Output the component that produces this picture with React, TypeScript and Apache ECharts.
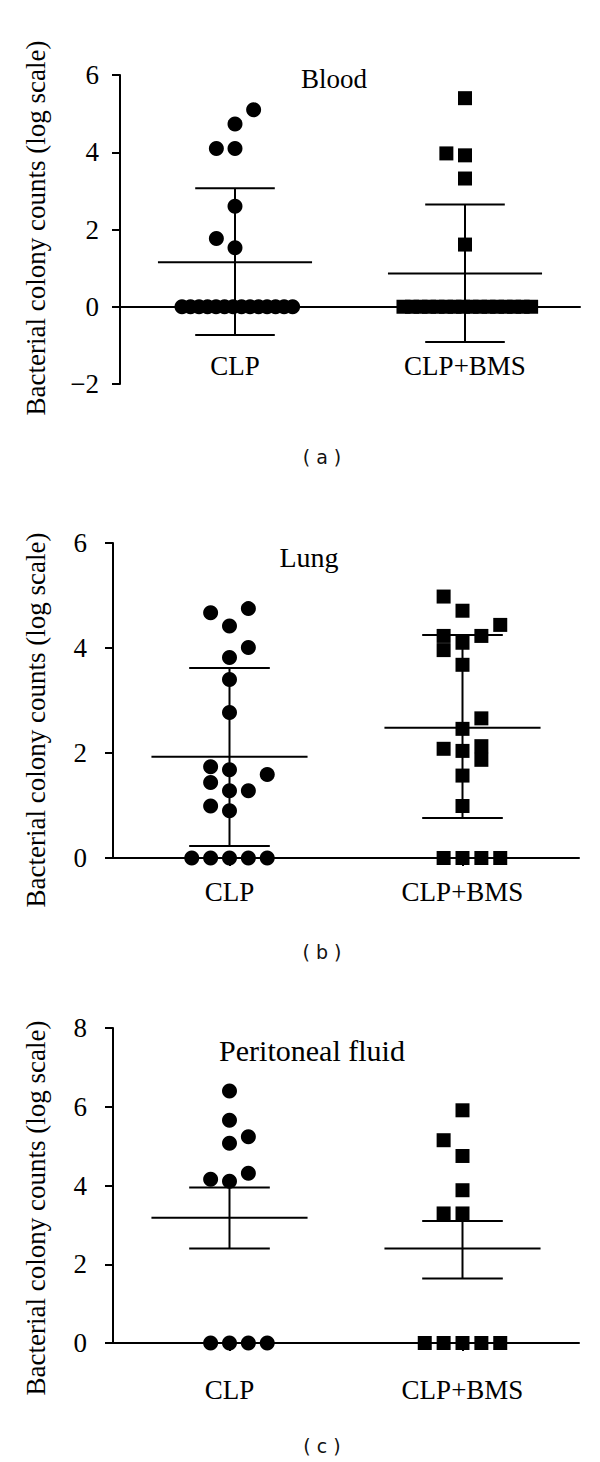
import React, { useEffect, useRef } from 'react';
import * as echarts from 'echarts';

// ---- Data ----
const categories = ['CLP', 'CLP+BMS'];
const panelTitles = ['Blood', 'Lung', 'Peritoneal fluid'];
const panelLetters = ['( a )', '( b )', '( c )'];
const yAxisTitle = 'Bacterial colony counts (log scale)';

// (a) Blood
const bloodClpValues = [5.1, 4.73, 4.1, 4.1, 2.6, 1.77, 1.53, 0, 0, 0, 0, 0, 0, 0, 0, 0, 0, 0, 0, 0, 0];
const bloodClpSwarm = [1, 0, -1, 0, 0, -1, 0];
const bloodBmsValues = [5.4, 3.97, 3.92, 3.32, 1.61, 0, 0, 0, 0, 0, 0, 0, 0, 0, 0, 0, 0, 0, 0, 0, 0];
const bloodBmsSwarm = [0, -1, 0, 0, 0];
const bloodMean = [1.15, 0.86];
const bloodLow = [-0.73, -0.91];
const bloodHigh = [3.07, 2.65];

// (b) Lung
const lungClpValues = [4.75, 4.67, 4.42, 4.01, 3.82, 3.4, 2.77, 1.74, 1.68, 1.59, 1.44, 1.28, 1.28, 0.99, 0.9, 0, 0, 0, 0, 0];
const lungClpSwarm = [1, -1, 0, 1, 0, 0, 0, -1, 0, 2, -1, 0, 1, -1, 0, -2, -1, 0, 1, 2];
const lungBmsValues = [4.98, 4.71, 4.44, 4.23, 3.96, 4.1, 4.23, 3.68, 2.66, 2.46, 2.08, 2.04, 2.13, 1.87, 1.57, 0.99, 0, 0, 0, 0];
const lungBmsSwarm = [-1, 0, 2, -1, -1, 0, 1, 0, 1, 0, -1, 0, 1, 1, 0, 0, -1, 0, 1, 2];
const lungMean = [1.93, 2.48];
const lungLow = [0.23, 0.76];
const lungHigh = [3.62, 4.25];

// (c) Peritoneal fluid
const periClpValues = [6.4, 5.66, 5.24, 5.07, 4.31, 4.16, 4.11, 0, 0, 0, 0];
const periClpSwarm = [0, 0, 1, 0, 1, -1, 0, -1, 0, 1, 2];
const periBmsValues = [5.91, 5.15, 4.75, 3.88, 3.29, 3.29, 0, 0, 0, 0, 0];
const periBmsSwarm = [0, -1, 0, 0, -1, 0, -2, -1, 0, 1, 2];
const periMean = [3.18, 2.4];
const periLow = [2.4, 1.64];
const periHigh = [3.95, 3.1];

const yTicksA = { min: -2, max: 6, interval: 2 };
const yTicksB = { min: 0, max: 6, interval: 2 };
const yTicksC = { min: 0, max: 8, interval: 2 };

// ---- Layout / style ----
const SERIF = 'Liberation Serif';
const SANS = 'DejaVu Sans';
const STEP = 0.081; // swarm column width (x units)
const PACK = 0.037; // packed zero-row spacing in panel (a)
const MEAN_HALF = 0.335;
const CAP_HALF = 0.173;

function swarmPoints(cat: number, values: number[], swarm: number[]) {
  // points beyond the listed swarm columns (a crowded zero row) are packed evenly
  const extra = values.length - swarm.length;
  return values.map((v, i) => {
    let off: number;
    if (i < swarm.length) off = swarm[i] * STEP;
    else {
      const k = i - swarm.length;
      off = (k - (extra - 1) / 2) * PACK + 0.01;
    }
    return [cat + off, v];
  });
}

const panels = [
  {
    grid: { left: 120, top: 75, width: 460, height: 309 },
    y: yTicksA, labelMarginY: 21, labelMarginX: -32,
    clp: swarmPoints(1, bloodClpValues, bloodClpSwarm),
    bms: swarmPoints(2, bloodBmsValues, bloodBmsSwarm),
    mean: bloodMean, low: bloodLow, high: bloodHigh,
  },
  {
    grid: { left: 113, top: 543, width: 466, height: 315 },
    y: yTicksB, labelMarginY: 26, labelMarginX: 20,
    clp: swarmPoints(1, lungClpValues, lungClpSwarm),
    bms: swarmPoints(2, lungBmsValues, lungBmsSwarm),
    mean: lungMean, low: lungLow, high: lungHigh,
  },
  {
    grid: { left: 113, top: 1028, width: 466, height: 315 },
    y: yTicksC, labelMarginY: 26, labelMarginX: 33,
    clp: swarmPoints(1, periClpValues, periClpSwarm),
    bms: swarmPoints(2, periBmsValues, periBmsSwarm),
    mean: periMean, low: periLow, high: periHigh,
  },
];

const titlePos = [
  { x: 334, y: 79, size: 27 },
  { x: 309, y: 557, size: 28 },
  { x: 312, y: 1050, size: 30 },
];
const letterPos = [{ x: 322, y: 457 }, { x: 322, y: 952 }, { x: 322, y: 1446 }];
const yTitlePos = [{ x: 36, y: 228 }, { x: 36, y: 720 }, { x: 36, y: 1208 }];

export default function App() {
  const ref = useRef<HTMLDivElement>(null);
  useEffect(() => {
    if (!ref.current) return;
    const chart = echarts.init(ref.current, undefined, { renderer: 'svg' });
    const lineStyle = { color: '#000', width: 2 };

    const option: any = {
      animation: false,
      backgroundColor: '#fff',
      textStyle: { fontFamily: SERIF },
      grid: panels.map((p) => ({ ...p.grid, containLabel: false })),
      xAxis: panels.map((p, i) => ({
        type: 'value', gridIndex: i, min: 0.5, max: 2.5, interval: 0.5,
        axisLine: { show: true, onZero: true, lineStyle },
        axisTick: { show: true, customValues: [1, 2], length: 8, lineStyle },
        axisLabel: {
          customValues: [1, 2],
          formatter: (v: number) => categories[Math.round(v) - 1] ?? '',
          margin: p.labelMarginX, fontSize: 27, fontFamily: SERIF, color: '#000',
        },
        splitLine: { show: false },
      })),
      yAxis: panels.map((p, i) => ({
        type: 'value', gridIndex: i, min: p.y.min, max: p.y.max, interval: p.y.interval,
        axisLine: { show: true, lineStyle },
        axisTick: { show: true, length: 8, lineStyle },
        axisLabel: {
          formatter: (v: number) => (v < 0 ? '\u2212' + Math.abs(v) : String(v)),
          margin: p.labelMarginY, fontSize: 27, fontFamily: SERIF, color: '#000',
        },
        splitLine: { show: false },
      })),
      series: panels.flatMap((p, i) => [
        {
          type: 'scatter', xAxisIndex: i, yAxisIndex: i, data: p.clp,
          symbol: 'circle', symbolSize: 15, itemStyle: { color: '#000', opacity: 1 }, z: 3,
        },
        {
          type: 'scatter', xAxisIndex: i, yAxisIndex: i, data: p.bms,
          symbol: 'rect', symbolSize: 14, itemStyle: { color: '#000', opacity: 1 }, z: 3,
        },
        {
          type: 'custom', xAxisIndex: i, yAxisIndex: i, z: 4,
          data: p.mean.map((m, k) => [k + 1, m, p.low[k], p.high[k]]),
          renderItem: (params: any, api: any) => {
            const x = api.value(0), m = api.value(1), lo = api.value(2), hi = api.value(3);
            const a = api.coord([x, lo]);
            const b = api.coord([x, hi]);
            const ml = api.coord([x - MEAN_HALF, m]);
            const mr = api.coord([x + MEAN_HALF, m]);
            const ll = api.coord([x - CAP_HALF, lo]);
            const lr = api.coord([x + CAP_HALF, lo]);
            const hl = api.coord([x - CAP_HALF, hi]);
            const hr = api.coord([x + CAP_HALF, hi]);
            const st = { stroke: '#000', lineWidth: 2 };
            const ln = (p1: number[], p2: number[]) => ({
              type: 'line', shape: { x1: p1[0], y1: p1[1], x2: p2[0], y2: p2[1] }, style: st,
            });
            return { type: 'group', children: [ln(a, b), ln(ml, mr), ln(ll, lr), ln(hl, hr)] };
          },
        },
      ]),
      graphic: [
        ...panelTitles.map((t, i) => ({
          type: 'text', x: titlePos[i].x, y: titlePos[i].y,
          style: { text: t, fontSize: titlePos[i].size, fontFamily: SERIF, fill: '#000', textAlign: 'center', textVerticalAlign: 'middle' },
        })),
        ...panelLetters.map((t, i) => ({
          type: 'text', x: letterPos[i].x, y: letterPos[i].y,
          style: { text: t, fontSize: 19, fontFamily: SANS, fill: '#111', textAlign: 'center', textVerticalAlign: 'middle' },
        })),
        ...yTitlePos.map((pos) => ({
          type: 'text', x: pos.x, y: pos.y, rotation: Math.PI / 2,
          style: { text: yAxisTitle, fontSize: 27, fontFamily: SERIF, fill: '#000', textAlign: 'center', textVerticalAlign: 'middle' },
        })),
      ],
    };
    chart.setOption(option);
    return () => chart.dispose();
  }, []);
  return (
    <div
      ref={ref}
      style={{ position: 'absolute', left: 0, top: 0, width: 600, height: 1462, background: '#fff' }}
    />
  );
}
